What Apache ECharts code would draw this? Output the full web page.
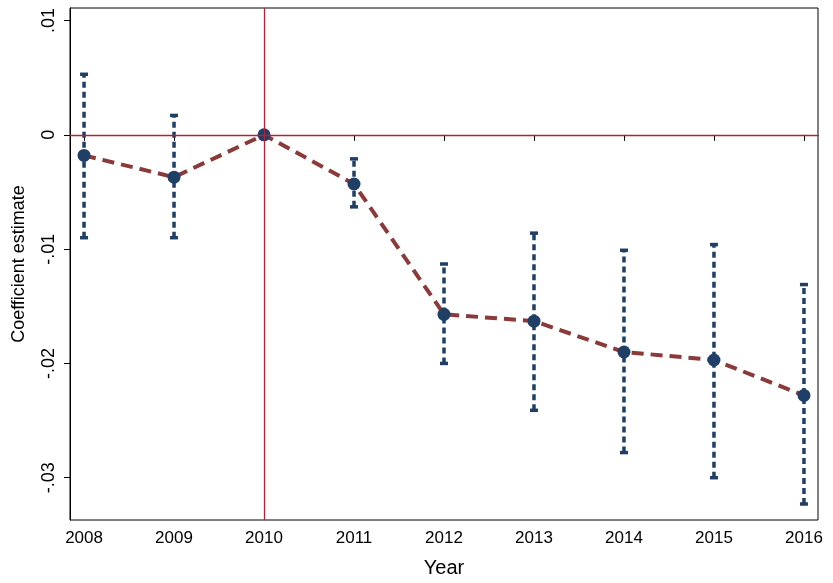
<!DOCTYPE html>
<html><head><meta charset="utf-8">
<script src="https://cdn.jsdelivr.net/npm/echarts@6/dist/echarts.min.js"></script>
<style>html,body{margin:0;background:#fff}#c{width:833px;height:583px}</style>
</head><body><div id="c"></div>
<script>
var years = [2008, 2009, 2010, 2011, 2012, 2013, 2014, 2015, 2016];
var estimates = [-0.0018, -0.0037, 0, -0.0043, -0.0157, -0.0163, -0.019, -0.0197, -0.0228];
var ciUpper = [0.0053, 0.0017, null, -0.0021, -0.0113, -0.0086, -0.0101, -0.0096, -0.0131];
var ciLower = [-0.009, -0.009, null, -0.0063, -0.0200, -0.0241, -0.0278, -0.0300, -0.0323];
var yTicks = [-0.03, -0.02, -0.01, 0, 0.01];

var chart = echarts.init(document.getElementById('c'));
var blue = '#1f3f66', brown = '#8b3a3a', red = '#b22234';
var ciData = [];
years.forEach(function (y, i) { if (ciUpper[i] != null) ciData.push([y, ciLower[i], ciUpper[i]]); });

function fmt(v) {
  if (Math.abs(v) < 1e-9) return '0';
  var s = (Math.round(v * 100) / 100).toString();
  return s.replace('0.', '.');
}

chart.setOption({
  animation: false,
  grid: { left: 70, right: 15, top: 8, bottom: 63, show: true, borderColor: '#000', borderWidth: 1, outerBoundsMode: 'none' },
  xAxis: {
    type: 'value', min: 2007.844, max: 2016.156,
    name: 'Year', nameLocation: 'middle', nameGap: 38,
    nameTextStyle: { fontSize: 20, color: '#000', fontFamily: 'Liberation Sans' },
    axisLine: { show: true, lineStyle: { color: '#000' } },
    axisTick: { show: true, length: 6, customValues: years, lineStyle: { color: '#000' } },
    axisLabel: { customValues: years, fontSize: 17, color: '#000', fontFamily: 'Liberation Sans', margin: 10, formatter: function (v) { return String(Math.round(v)); } },
    splitLine: { show: false }
  },
  yAxis: {
    type: 'value', min: -0.0337, max: 0.0111,
    name: 'Coefficient estimate', nameLocation: 'middle', nameGap: 42,
    nameTextStyle: { fontSize: 18, color: '#000', fontFamily: 'Liberation Sans' },
    axisLine: { show: true, lineStyle: { color: '#000' } },
    axisTick: { show: true, length: 6, customValues: yTicks, lineStyle: { color: '#000' } },
    axisLabel: { customValues: yTicks, rotate: 90, fontSize: 18, color: '#000', fontFamily: 'Liberation Sans', formatter: fmt, margin: 12 },
    splitLine: { show: false }
  },
  series: [
    {
      type: 'custom', z: 3,
      data: ciData,
      encode: { x: 0, y: [1, 2] },
      renderItem: function (params, api) {
        var lo = api.coord([api.value(0), api.value(1)]);
        var hi = api.coord([api.value(0), api.value(2)]);
        var st = { stroke: blue, lineWidth: 3.5 };
        return { type: 'group', children: [
          { type: 'line', shape: { x1: lo[0], y1: lo[1], x2: hi[0], y2: hi[1] }, style: { stroke: blue, lineWidth: 3.5, lineDash: [6, 4] } },
          { type: 'line', shape: { x1: lo[0] - 4, y1: lo[1], x2: lo[0] + 4, y2: lo[1] }, style: st },
          { type: 'line', shape: { x1: hi[0] - 4, y1: hi[1], x2: hi[0] + 4, y2: hi[1] }, style: st }
        ] };
      }
    },
    {
      type: 'line', z: 4,
      data: years.map(function (y, i) { return [y, estimates[i]]; }),
      symbol: 'circle', symbolSize: 13,
      itemStyle: { color: blue },
      lineStyle: { color: brown, width: 4, type: [12, 7] },
      markLine: {
        silent: true, symbol: 'none', label: { show: false },
        lineStyle: { color: red, type: 'solid', width: 1.3 },
        data: [{ yAxis: 0 }, { xAxis: 2010 }]
      }
    }
  ]
});
</script></body></html>
